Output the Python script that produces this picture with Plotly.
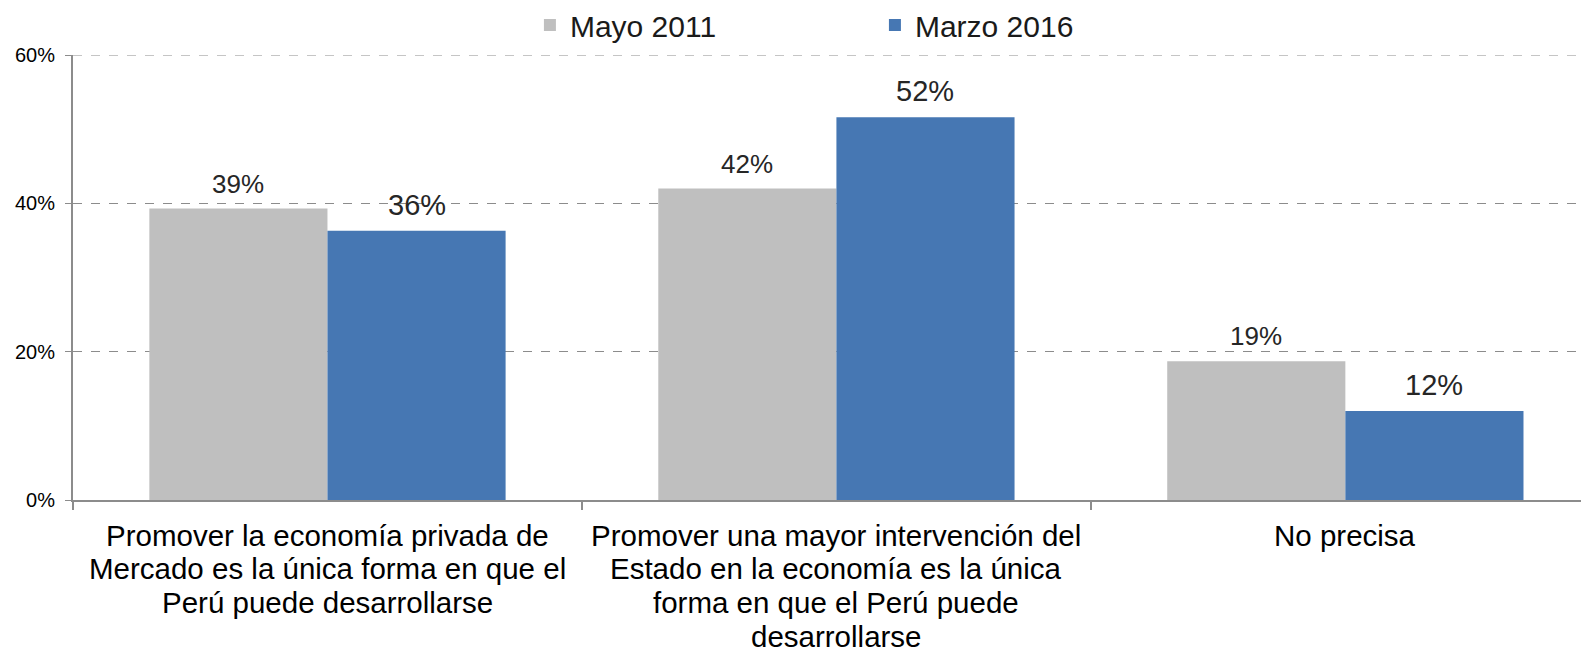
import plotly.graph_objects as go

categories = [
    "Promover la economía privada de<br>Mercado es la única forma en que el<br>Perú puede desarrollarse",
    "Promover una mayor intervención del<br>Estado en la economía es la única<br>forma en que el Perú puede<br>desarrollarse",
    "No precisa",
]
series_names = ["Mayo 2011", "Marzo 2016"]
mayo_2011 = [39.3, 42.0, 18.7]
marzo_2016 = [36.3, 51.6, 12.0]
y_ticks = [0, 20, 40, 60]
y_tick_labels = ["0%", "20%", "40%", "60%"]

colors = ["#BFBFBF", "#4677B3"]
label_sizes = [26, 29]
FONT = "Liberation Sans, Arial, sans-serif"

fig = go.Figure()
for name, vals, col in zip(series_names, [mayo_2011, marzo_2016], colors):
    fig.add_trace(go.Bar(
        name=name, x=list(range(len(categories))), y=vals,
        marker=dict(color=col, line=dict(width=0)),
    ))

# data labels above bars
bargap = 0.3
half = (1 - bargap) / 2
for k, (vals, size) in enumerate(zip([mayo_2011, marzo_2016], label_sizes)):
    off = -half / 2 if k == 0 else half / 2
    for i, v in enumerate(vals):
        fig.add_annotation(
            x=i + off, y=v, xref="x", yref="y",
            text=f"{round(v):.0f}%", showarrow=False,
            yanchor="bottom", yshift=8,
            font=dict(family=FONT, size=size, color="#262626"),
        )

# category labels, one line per annotation to control line spacing
for i, lab in enumerate(categories):
    for j, line in enumerate(lab.split("<br>")):
        fig.add_annotation(
            x=i, y=0, xref="x", yref="y", text=line, showarrow=False,
            xanchor="center", yanchor="middle", yshift=-(35 + j * 33.8),
            font=dict(family=FONT, size=29.5, color="#000000"),
        )

# top gridline (plotly omits the gridline at the range edge)
fig.add_shape(type="line", xref="paper", yref="y", x0=0, x1=1,
              y0=y_ticks[-1], y1=y_ticks[-1],
              line=dict(color="#8C8C8C", width=1, dash="dash"), layer="below")

fig.update_layout(
    width=1581, height=647,
    margin=dict(l=73, r=0, t=55, b=147, autoexpand=False),
    plot_bgcolor="white", paper_bgcolor="white",
    barmode="group", bargap=bargap, bargroupgap=0,
    font=dict(family=FONT, color="#000000"),
    showlegend=True,
    legend=dict(
        orientation="h", x=0.303, xanchor="left",
        yref="container", y=1 - 25 / 647, yanchor="middle",
        font=dict(size=30, color="#1a1a1a"), entrywidth=300,
        bgcolor="rgba(0,0,0,0)", tracegroupgap=0,
    ),
)
fig.update_xaxes(
    tickmode="array", tickvals=list(range(len(categories))),
    ticktext=[""] * len(categories),
    range=[-0.5, 2.463], showgrid=False,
    showline=True, linecolor="#8C8C8C", linewidth=2,
    ticks="", zeroline=False,
)
fig.update_xaxes(minor=dict(tickmode="array", tickvals=[-0.5, 0.5, 1.5],
                            ticks="outside", ticklen=8, tickcolor="#8C8C8C", tickwidth=1.5))
fig.update_yaxes(
    range=[0, 60], tickmode="array", tickvals=y_ticks, ticktext=y_tick_labels,
    showgrid=True, gridcolor="#8C8C8C", griddash="dash", gridwidth=1,
    showline=True, linecolor="#8C8C8C", linewidth=2,
    ticks="outside", ticklen=6, tickcolor="#8C8C8C", ticklabelstandoff=6,
    tickfont=dict(size=20, color="#000000"), zeroline=False,
)

fig.write_html(
    "out.html",
    config={"displayModeBar": False},
    post_script="document.body.style.margin='0';document.body.style.overflow='hidden';",
)
